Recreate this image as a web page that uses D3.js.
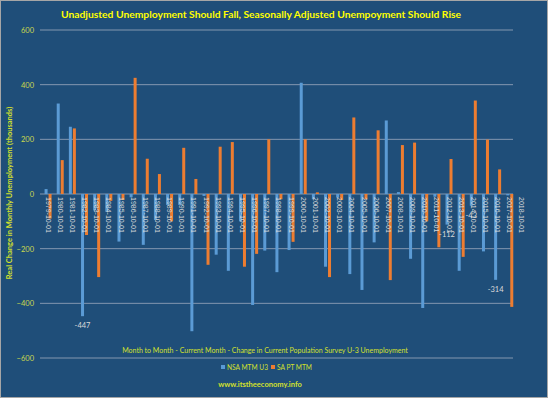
<!DOCTYPE html>
<html>
<head>
<meta charset="utf-8">
<script src="https://cdn.jsdelivr.net/npm/d3@7"></script>
<style>
  body { margin: 0; background: #ffffff; }
  svg { display: block; }
</style>
</head>
<body>
<div id="chart"></div>
<script>
// categories : mois d'octobre de 1979 a 2018
var years = d3.range(1979, 2019);
var categories = years.map(function(y) { return y + '-10-01'; });

// NSA MTM U3 (non corrige, milliers)
var nsaValues = [18, 331, 246, -447, -60, -65, -174, -12, -186, -95,
                 -40, -40, -502, -7, -222, -281, -100, -406, -207, -286,
                 -205, 407, -19, -266, -13, -293, -351, -177, 269, 7,
                 -237, -417, -10, -112, -281, -43, -210, -314, -5, null];

// SA PT MTM (corrige des variations saisonnieres)
var saValues = [-90, 124, 240, -150, -304, -25, -22, 425, 129, 73,
                -100, 169, 55, -259, 173, 190, -266, -219, 200, -19,
                -175, 200, 6, -304, -22, 280, -19, 233, -315, 179,
                188, -100, -195, 128, -230, 342, 199, 90, -413, null];

// etiquettes de donnees affichees sur la serie NSA
var labelled = ['1982-10-01', '2012-10-01', '2014-10-01', '2016-10-01'];

var yTicks = [-600, -400, -200, 0, 200, 400, 600];

var seriesNames = ['NSA MTM U3', 'SA PT MTM'];
var colors = ['#5b9bd5', '#ed7d31'];

var W = 548, H = 398;
var svg = d3.select('#chart').append('svg')
  .attr('width', W).attr('height', H);

// fond + bordure
svg.append('rect')
  .attr('x', 0.5).attr('y', 0.5)
  .attr('width', W - 1).attr('height', H - 1)
  .attr('fill', '#1f4e79')
  .attr('stroke', '#a6a6a6');

var x = d3.scaleBand().domain(categories).range([42, 528]);
var y = d3.scaleLinear().domain([-600, 600]).range([358, 30]);

// grille horizontale
svg.append('g').selectAll('line')
  .data(yTicks)
  .enter().append('line')
  .attr('x1', 40).attr('x2', 513)
  .attr('y1', d => y(d)).attr('y2', d => y(d))
  .attr('stroke', '#8497b0')
  .attr('stroke-width', 1);

// axe y
var yAxis = d3.axisLeft(y).tickValues(yTicks).tickSize(0).tickPadding(0);
var gy = svg.append('g').attr('transform', 'translate(34,0)').call(yAxis);
gy.select('.domain').remove();
gy.selectAll('text')
  .attr('fill', '#c9d84f')
  .style('font-family', 'Lato, "Open Sans", sans-serif')
  .style('font-size', '7.5px');

// barres
var barW = 3;
var sets = [nsaValues, saValues];
sets.forEach(function(vals, s) {
  svg.append('g').selectAll('rect')
    .data(categories.map((c, i) => ({ cat: c, v: vals[i] })).filter(d => d.v != null))
    .enter().append('rect')
    .attr('x', d => x(d.cat) + x.bandwidth() / 2 + (s === 0 ? -3.5 : 0.5))
    .attr('width', barW)
    .attr('y', d => y(Math.max(0, d.v)))
    .attr('height', d => Math.abs(y(d.v) - y(0)))
    .attr('fill', colors[s]);
});

// etiquettes des categories, verticales sous la ligne du zero
var xAxis = d3.axisBottom(x).tickSize(0).tickPadding(0);
var gx = svg.append('g').attr('transform', 'translate(0,' + y(0) + ')').call(xAxis);
gx.select('.domain').remove();
gx.selectAll('text')
  .attr('transform', 'rotate(90)')
  .attr('x', 3).attr('y', 0).attr('dy', '0.35em')
  .style('text-anchor', 'start')
  .attr('fill', '#d9d9d9')
  .style('font-family', '"Liberation Sans Narrow", "Liberation Sans", sans-serif')
  .style('font-size', '7px');

// etiquettes de donnees
svg.append('g').selectAll('text')
  .data(labelled)
  .enter().append('text')
  .attr('x', d => x(d) + x.bandwidth() / 2 - 2)
  .attr('y', d => y(nsaValues[categories.indexOf(d)]) + 12)
  .attr('text-anchor', 'middle')
  .attr('fill', '#d9d9d9')
  .style('font-family', 'Lato, sans-serif')
  .style('font-size', '7.5px')
  .text(d => nsaValues[categories.indexOf(d)]);

// titre
svg.append('text')
  .attr('x', 261).attr('y', 18)
  .attr('text-anchor', 'middle')
  .attr('fill', '#ffff00')
  .style('font-family', 'Lato, sans-serif')
  .style('font-weight', 'bold')
  .style('font-size', '10.3px')
  .text('Unadjusted Unemployment Should Fall, Seasonally Adjusted Unempoyment Should Rise');

// titre axe y
svg.append('text')
  .attr('transform', 'translate(12,193) rotate(-90)')
  .attr('text-anchor', 'middle')
  .attr('fill', '#d4e02c')
  .style('font-family', 'Lato, sans-serif')
  .style('font-weight', 'bold')
  .style('font-size', '7.5px')
  .text('Real Change in Monthly Unemployment (thousands)');

// titre axe x
svg.append('text')
  .attr('x', 265).attr('y', 353)
  .attr('text-anchor', 'middle')
  .attr('fill', '#d4e02c')
  .style('font-family', 'Lato, sans-serif')
  .style('font-size', '7px')
  .text('Month to Month - Current Month - Change in Current Population Survey U-3 Unemployment');

// legende
var leg = svg.append('g');
var legX = [221, 271];
seriesNames.forEach(function(name, i) {
  leg.append('rect')
    .attr('x', legX[i]).attr('y', 365)
    .attr('width', 4).attr('height', 4)
    .attr('fill', colors[i]);
  leg.append('text')
    .attr('x', legX[i] + 6).attr('y', 370)
    .attr('fill', '#d4e02c')
    .style('font-family', 'Lato, sans-serif')
    .style('font-size', '6.6px')
    .text(name);
});

// source
svg.append('text')
  .attr('x', 260).attr('y', 387)
  .attr('text-anchor', 'middle')
  .attr('fill', '#d4e02c')
  .style('font-family', 'Lato, sans-serif')
  .style('font-weight', 'bold')
  .style('font-size', '7.5px')
  .text('www.itstheeconomy.info');
</script>
</body>
</html>
